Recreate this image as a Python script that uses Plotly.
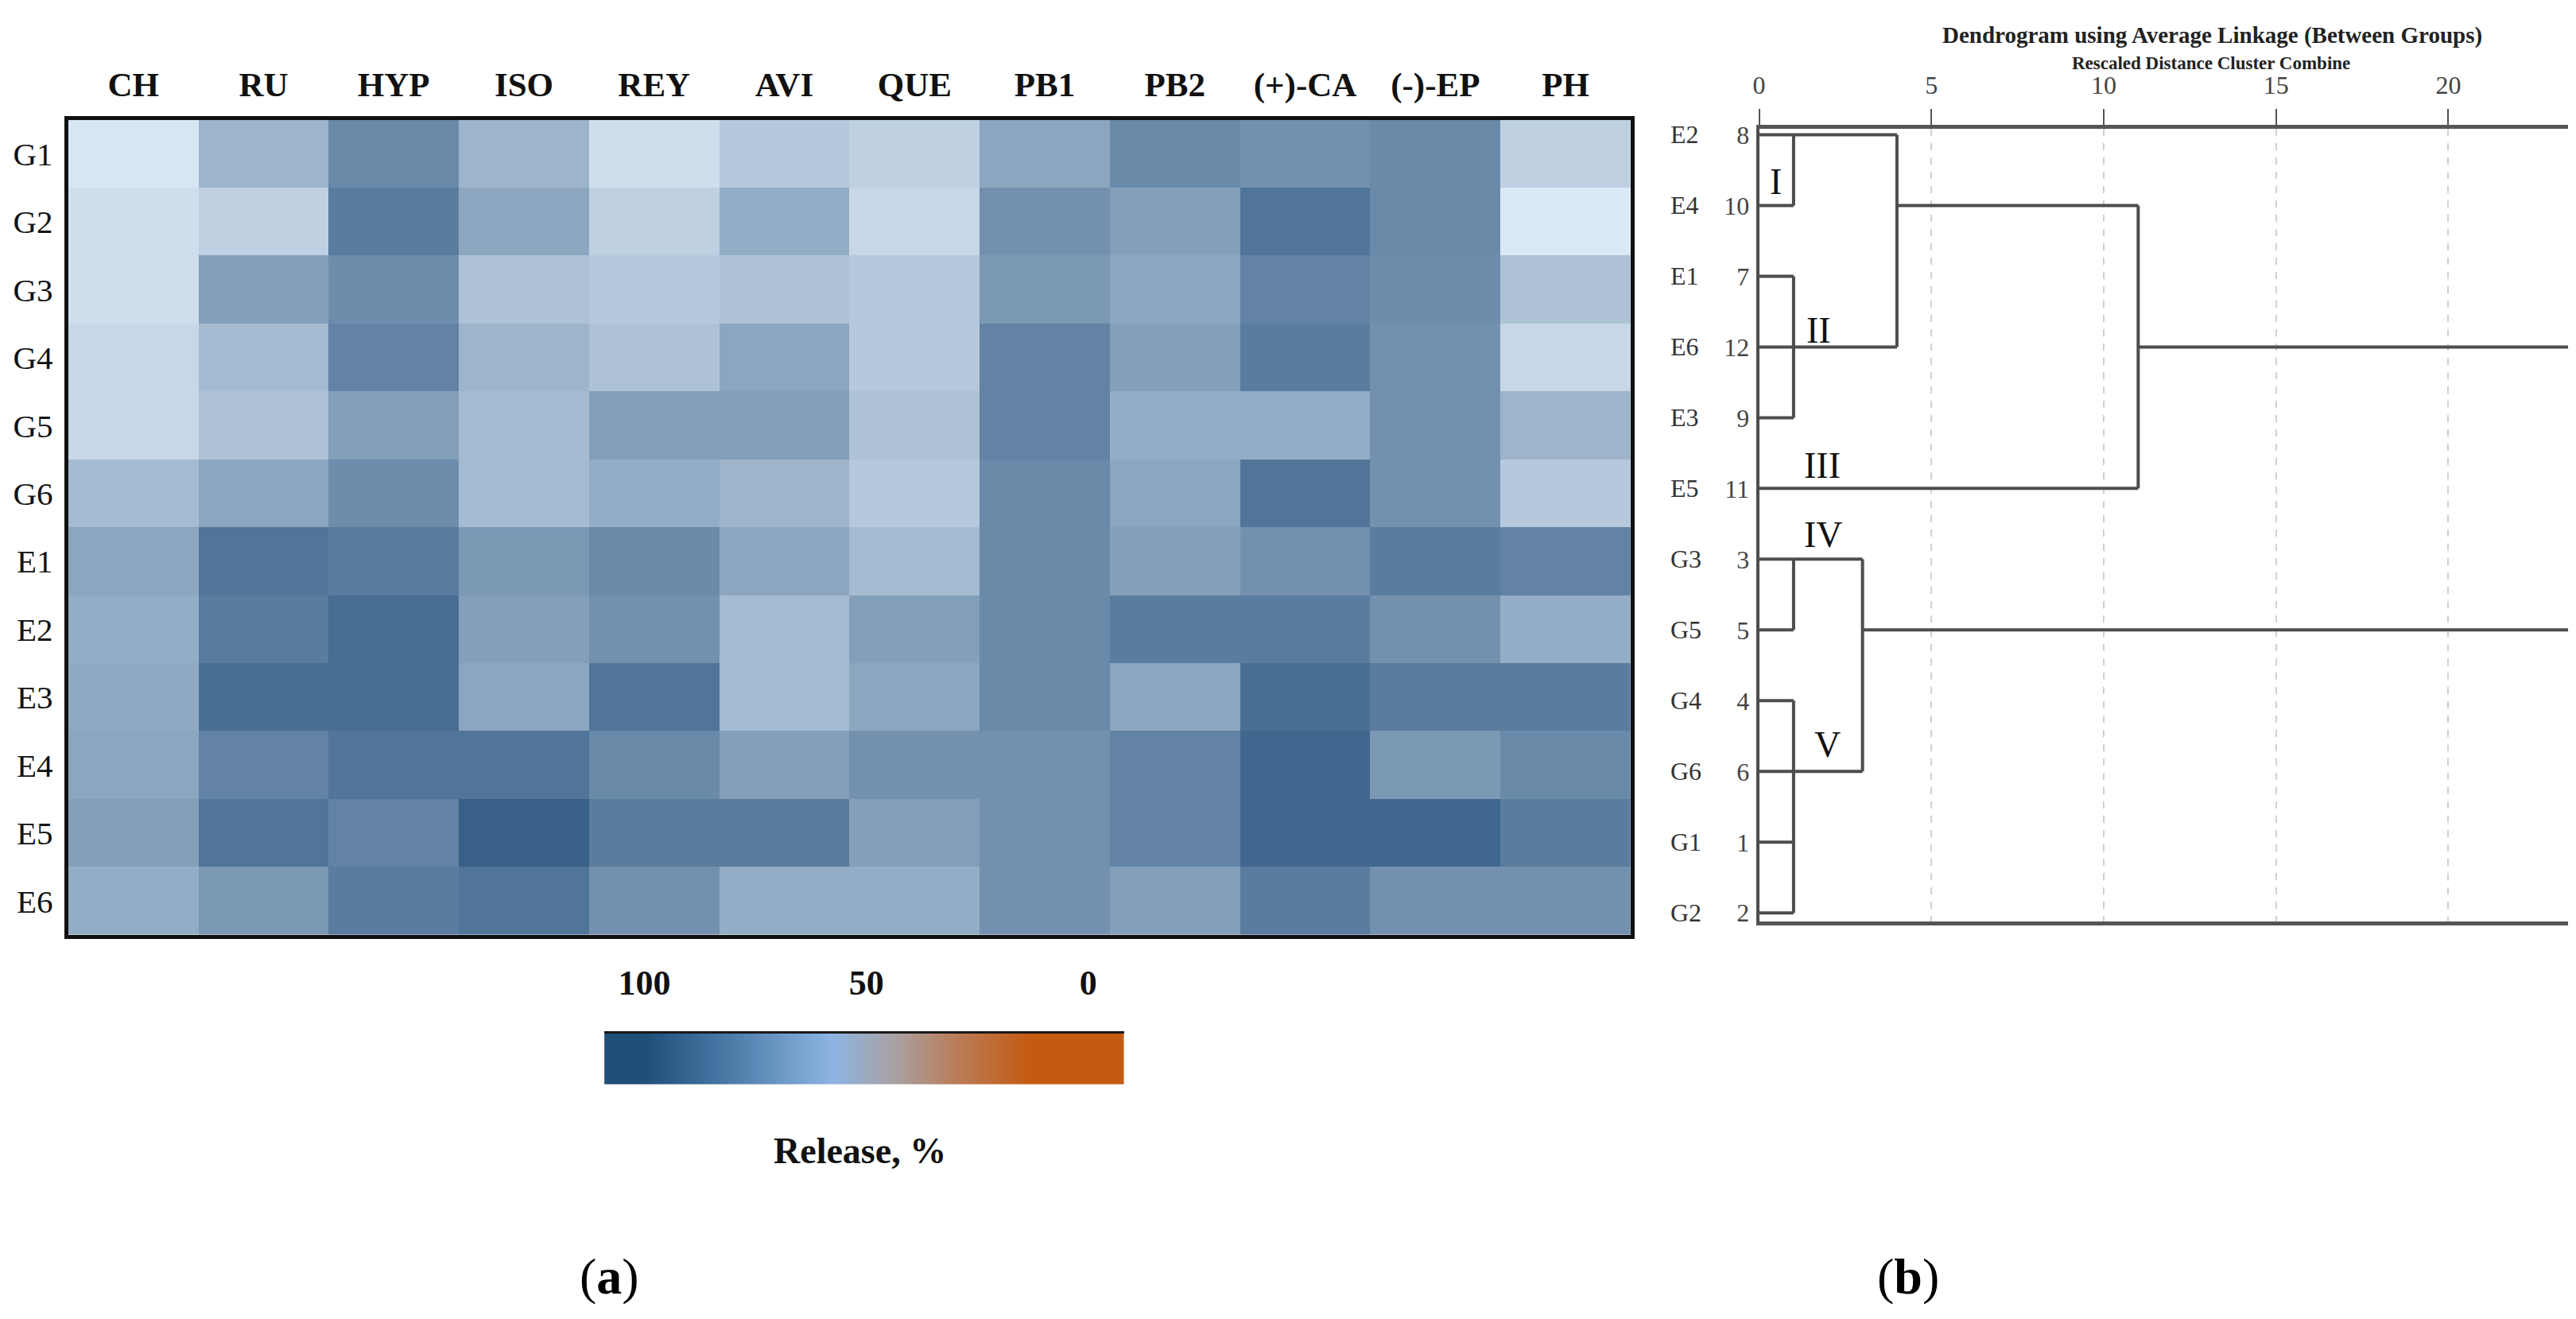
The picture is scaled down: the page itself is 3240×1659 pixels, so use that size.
import math
import plotly.graph_objects as go

# ---------------- data ----------------
compounds = ["CH", "RU", "HYP", "ISO", "REY", "AVI", "QUE", "PB1", "PB2", "(+)-CA", "(-)-EP", "PH"]
samples = ["G1", "G2", "G3", "G4", "G5", "G6", "E1", "E2", "E3", "E4", "E5", "E6"]

release_G1 = [52.5, 70.0, 85.0, 70.0, 55.0, 62.5, 60.0, 75.0, 85.0, 82.5, 85.0, 60.0]
release_G2 = [55.0, 60.0, 90.0, 75.0, 60.0, 72.5, 57.5, 82.5, 77.5, 92.5, 85.0, 51.5]
release_G3 = [55.0, 77.5, 84.0, 65.0, 62.5, 65.0, 62.5, 80.0, 75.0, 87.5, 84.0, 65.0]
release_G4 = [57.5, 67.5, 87.5, 70.0, 65.0, 75.0, 62.5, 87.5, 77.5, 90.0, 82.5, 57.5]
release_G5 = [57.5, 65.0, 77.5, 67.5, 77.5, 77.5, 65.0, 87.5, 72.5, 72.5, 82.5, 70.0]
release_G6 = [67.5, 75.0, 84.0, 67.5, 72.5, 70.0, 62.5, 85.0, 75.0, 92.5, 82.5, 62.5]
release_E1 = [75.0, 92.5, 90.0, 80.0, 85.0, 75.0, 67.5, 85.0, 77.5, 82.5, 90.0, 87.5]
release_E2 = [72.5, 90.0, 95.0, 77.5, 82.5, 67.5, 77.5, 85.0, 90.0, 90.0, 82.5, 72.5]
release_E3 = [74.0, 95.0, 95.0, 75.0, 92.5, 67.5, 75.0, 85.0, 75.0, 95.0, 90.0, 90.0]
release_E4 = [75.0, 87.5, 92.5, 92.5, 85.0, 77.5, 82.5, 82.5, 87.5, 97.5, 80.0, 85.0]
release_E5 = [77.5, 92.5, 87.5, 100.0, 90.0, 90.0, 77.5, 82.5, 87.5, 97.5, 97.5, 90.0]
release_E6 = [72.5, 80.0, 90.0, 92.5, 82.5, 72.5, 72.5, 82.5, 77.5, 90.0, 82.5, 82.5]

colorbar_ticks = [100, 50, 0]
colorbar_levels = list(range(-8, 110))

leaf_labels = ["E2", "E4", "E1", "E6", "E3", "E5", "G3", "G5", "G4", "G6", "G1", "G2"]
leaf_numbers = [8, 10, 7, 12, 9, 11, 3, 5, 4, 6, 1, 2]
merge_names = ["I", "II", "I+II", "I-III", "IV", "V", "IV+V", "root"]
merge_children = [["E2", "E4"], ["E1", "E6", "E3"], ["I", "II"], ["I+II", "E5"],
                  ["G3", "G5"], ["G4", "G6", "G1", "G2"], ["IV", "V"], ["I-III", "IV+V"]]
merge_distance = [1.0, 1.0, 4.0, 11.0, 1.0, 1.0, 3.0, 25.0]
cluster_labels = ["I", "II", "III", "IV", "V"]
distance_ticks = [0, 5, 10, 15, 20]

# ---------------- styling ----------------
W, H = 3240, 1659
SERIF = "Liberation Serif"

def px(x):
    return x / W

def py(y):
    return 1 - y / H

release = [release_G1, release_G2, release_G3, release_G4, release_G5, release_G6,
           release_E1, release_E2, release_E3, release_E4, release_E5, release_E6]

cell_scale = [[0.0, "rgb(224,236,248)"], [0.5, "rgb(140,166,192)"], [1.0, "rgb(56,96,136)"]]
bar_scale = [[0.0, "rgb(197,90,17)"], [0.13, "rgb(197,90,17)"], [0.30, "rgb(185,125,90)"],
             [0.44, "rgb(168,162,165)"], [0.575, "rgb(141,180,226)"], [0.83, "rgb(70,118,163)"],
             [1.0, "rgb(31,78,121)"]]

fig = go.Figure()

# heatmap (a)
fig.add_trace(go.Heatmap(z=release, x=compounds, y=samples, colorscale=cell_scale,
                         zmin=50, zmax=100, showscale=False, xaxis="x", yaxis="y",
                         hovertemplate="%{y} %{x}: %{z}%<extra></extra>"))

# colour legend strip
fig.add_trace(go.Heatmap(z=[colorbar_levels], x=colorbar_levels, y=[0], colorscale=bar_scale,
                         zmin=0, zmax=100, showscale=False, xaxis="x2", yaxis="y2",
                         hoverinfo="skip"))

# dendrogram (b)
pos = {lab: (float(i), 0.0) for i, lab in enumerate(leaf_labels)}
seg_x, seg_y = [], []
for name, kids, d in zip(merge_names, merge_children, merge_distance):
    rows = [pos[k][0] for k in kids]
    for k in kids:
        r, x0 = pos[k]
        seg_x += [x0, d, None]
        seg_y += [r, r, None]
    seg_x += [d, d, None]
    seg_y += [min(rows), max(rows), None]
    pos[name] = (float(math.floor(sum(rows) / len(rows))), d)

fig.add_trace(go.Scatter(x=seg_x, y=seg_y, mode="lines", xaxis="x3", yaxis="y3",
                         line=dict(color="#4d4d4d", width=4), hoverinfo="skip",
                         showlegend=False))

n = len(leaf_labels)
row_top, row_bot = 153, 1142
row_step = (row_bot - row_top) / (n - 1)
y3_top = -(row_top - 145) / row_step
y3_bot = (n - 1) + (1153 - row_bot) / row_step
x0_px, unit = 2202, (3071 - 2202) / 20.0
x_right_px = 3222
x3_max = (x_right_px - x0_px) / unit

annotations = []
# leaf names on dendrogram
for i, lab in enumerate(leaf_labels):
    annotations.append(dict(text=lab, xref="paper", yref="y3", x=px(2088), y=i,
                            xanchor="left", yanchor="middle", showarrow=False,
                            font=dict(family=SERIF, size=32, color="#333333")))

# roman numeral cluster labels
label_x = [0.49, 1.72, 1.83, 1.87, 1.98]
label_row = [0.66, 2.77, 4.68, 5.65, 8.62]
for lab, lx, lr in zip(cluster_labels, label_x, label_row):
    annotations.append(dict(text=lab, xref="x3", yref="y3", x=lx, y=lr, showarrow=False,
                            xanchor="center", yanchor="middle",
                            font=dict(family=SERIF, size=46, color="#111111")))

annotations += [
    dict(text="<b>Dendrogram using Average Linkage (Between Groups)</b>", xref="paper", yref="paper",
         x=px(2773), y=py(27), showarrow=False, xanchor="center", yanchor="middle",
         font=dict(family=SERIF, size=29, color="#222222")),
    dict(text="<b>Rescaled Distance Cluster Combine</b>", xref="paper", yref="paper",
         x=px(2772), y=py(62), showarrow=False, xanchor="center", yanchor="middle",
         font=dict(family=SERIF, size=23, color="#222222")),
    dict(text="<b>Release, %</b>", xref="paper", yref="paper", x=px(1068), y=py(1444),
         showarrow=False, xanchor="center", yanchor="middle",
         font=dict(family=SERIF, size=46, color="#111111")),
    dict(text="(<b>a</b>)", xref="paper", yref="paper", x=px(752), y=py(1604),
         showarrow=False, xanchor="center", yanchor="middle",
         font=dict(family=SERIF, size=64, color="#000000")),
    dict(text="(<b>b</b>)", xref="paper", yref="paper", x=px(2390), y=py(1604),
         showarrow=False, xanchor="center", yanchor="middle",
         font=dict(family=SERIF, size=64, color="#000000")),
]

fig.update_layout(
    width=W, height=H,
    margin=dict(l=0, r=0, t=0, b=0),
    paper_bgcolor="white", plot_bgcolor="white",
    showlegend=False,
    annotations=annotations,
    xaxis=dict(domain=[px(70), px(2040)], side="top", showgrid=False, zeroline=False,
               ticks="", ticklabelstandoff=7,
               tickfont=dict(family=SERIF, size=43, color="#111111", weight="bold"),
               showline=True, linecolor="#111111", linewidth=5, mirror=True),
    yaxis=dict(domain=[py(1170), py(134)], autorange="reversed", showgrid=False, zeroline=False,
               ticks="", ticklabelstandoff=6,
               tickfont=dict(family=SERIF, size=41, color="#111111"),
               showline=True, linecolor="#111111", linewidth=5, mirror=True),
    xaxis2=dict(domain=[px(746), px(1401)], anchor="y2", side="top", range=[109, -8],
                tickvals=colorbar_ticks, ticks="", showgrid=False, zeroline=False,
                ticklabelstandoff=28,
                tickfont=dict(family=SERIF, size=44, color="#111111", weight="bold"),
                showline=True, linecolor="#1a1a1a", linewidth=3),
    yaxis2=dict(domain=[py(1360), py(1295)], anchor="x2", range=[-0.5, 0.5], visible=False),
    xaxis3=dict(domain=[px(x0_px), px(x_right_px)], anchor="y3", side="top", range=[0, x3_max],
                tickvals=distance_ticks, ticks="outside", ticklen=20, tickwidth=2,
                tickcolor="#555555", ticklabelstandoff=6,
                tickfont=dict(family=SERIF, size=32, color="#444444"),
                showgrid=True, gridcolor="#d0d0d0", gridwidth=2, griddash="dash",
                zeroline=False, showline=True, linecolor="#555555", linewidth=5, mirror=True),
    yaxis3=dict(domain=[py(1153), py(145)], anchor="x3", range=[y3_bot, y3_top],
                tickvals=list(range(n)), ticktext=[str(v) for v in leaf_numbers],
                ticks="", ticklabelstandoff=2, showgrid=False, zeroline=False,
                tickfont=dict(family=SERIF, size=32, color="#444444"),
                showline=True, linecolor="#4d4d4d", linewidth=4),
)

fig.write_html("out.html")
